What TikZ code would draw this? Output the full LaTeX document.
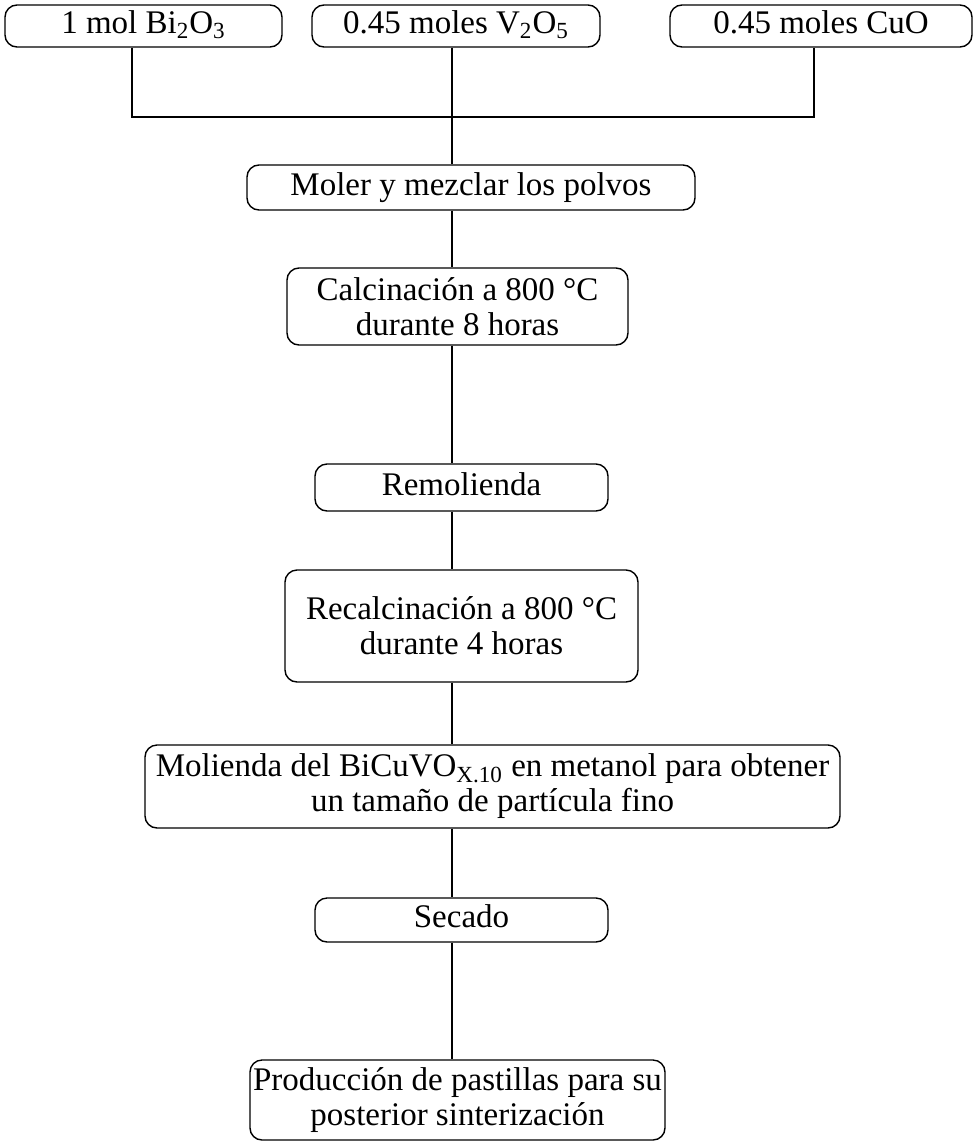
\documentclass[tikz,border=0pt]{standalone}
\usepackage{fontspec}
\setmainfont{Liberation Serif}
\usetikzlibrary{positioning}

\begin{document}
\begin{tikzpicture}[x=0.5pt,y=-0.5pt,-,thick,line width=0.7pt,
    proc node/.style={draw,rounded corners=6pt,align=center,inner sep=0pt,
      font=\fontsize{16.5}{17.5}\selectfont},
    one line/.style={proc node,text height=11pt,text depth=3.5pt}]
      \useasboundingbox (0,0) rectangle (976,1146);
      \node[one line,minimum width=138.5pt,minimum height=21pt] (bi) at (143.5,26) {1 mol Bi\textsubscript{2}O\textsubscript{3}};
      \node[one line,minimum width=144pt,minimum height=21pt] (v) at (456,26) {0.45 moles V\textsubscript{2}O\textsubscript{5}};
      \node[one line,minimum width=151pt,minimum height=21pt] (cu) at (821,26) {0.45 moles CuO};

      \node[one line,minimum width=224pt,minimum height=22.5pt] (moler) at (471,187.5) {Moler y mezclar los polvos};
      \node[proc node,minimum width=170.5pt,minimum height=38.5pt] (calc) at (457.5,306.5) {Calcinación a 800 °C\\durante 8 horas};
      \node[one line,minimum width=146.5pt,minimum height=23.5pt] (remol) at (461.5,487.5) {Remolienda};
      \node[proc node,minimum width=176.5pt,minimum height=56pt] (recalc) at (461.5,626) {Recalcinación a 800 °C\\durante 4 horas};
      \node[proc node,minimum width=347.5pt,minimum height=41.5pt] (molienda) at (492.5,786.5) {Molienda del BiCuVO\textsubscript{X.10} en metanol para obtener\\un tamaño de partícula fino};
      \node[one line,minimum width=146.5pt,minimum height=22pt] (secado) at (461.5,920) {Secado};
      \node[proc node,minimum width=207.5pt,minimum height=40pt] (pastillas) at (457.5,1100) {Producción de pastillas para su\\posterior sinterización};

      \coordinate (trunk) at (452,117);
      \coordinate (jbi) at (132,117);
      \coordinate (jcu) at (814,117);

      \draw (bi.south -| jbi) -- (jbi) -- (jcu) -- (cu.south -| jcu);
      \draw (v.south -| trunk) -- (moler.north -| trunk);
      \draw (moler.south -| trunk) -- (calc.north -| trunk);
      \draw (calc.south -| trunk) -- (remol.north -| trunk);
      \draw (remol.south -| trunk) -- (recalc.north -| trunk);
      \draw (recalc.south -| trunk) -- (molienda.north -| trunk);
      \draw (molienda.south -| trunk) -- (secado.north -| trunk);
      \draw (secado.south -| trunk) -- (pastillas.north -| trunk);
\end{tikzpicture}
\end{document}
